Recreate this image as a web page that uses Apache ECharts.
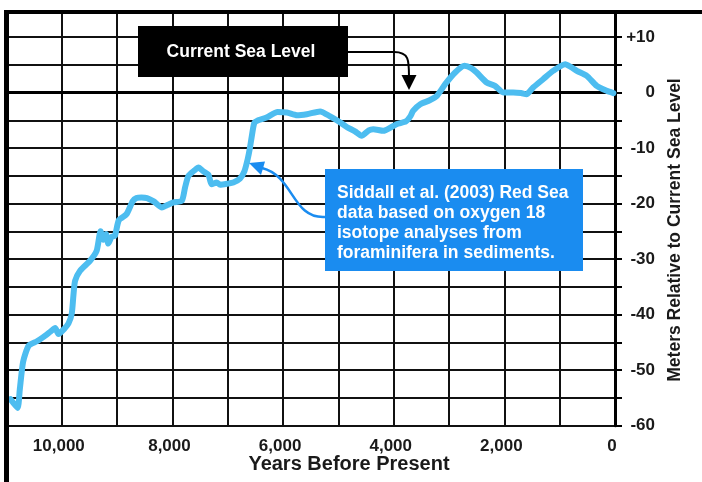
<!DOCTYPE html>
<html>
<head>
<meta charset="utf-8">
<script src="https://cdn.jsdelivr.net/npm/echarts@6/dist/echarts.min.js"></script>
<style>
html,body{margin:0;padding:0;background:#fff;}
#chart{width:702px;height:482px;}
</style>
</head>
<body>
<div id="chart"></div>
<script>
// Years before present (x) and sea level in metres relative to current (y)
const years = [10930,10800,10760,10700,10600,10450,10330,10200,10120,10060,9960,9880,9820,9790,9760,9670,9490,9370,9300,9250,9200,9160,9100,9040,8970,8830,8720,8650,8560,8460,8340,8190,8100,7980,7830,7770,7710,7600,7530,7440,7350,7290,7200,7140,7000,6900,6780,6700,6640,6600,6560,6520,6450,6300,6100,5930,5750,5570,5330,5150,4980,4850,4700,4580,4450,4370,4190,3950,3780,3700,3650,3520,3350,3220,3070,2890,2720,2600,2500,2320,2170,2020,1840,1700,1600,1480,1300,1120,900,800,690,510,330,150,30];
const levels = [-55.2,-56.8,-53.5,-48.5,-45.6,-44.8,-44.0,-43.0,-42.4,-43.5,-42.6,-41.6,-39.8,-36.5,-33.9,-32.1,-30.3,-28.5,-25.0,-26.5,-25.5,-27.2,-26.0,-25.8,-23.0,-21.9,-19.6,-19.0,-18.9,-19.0,-19.6,-20.7,-20.3,-19.8,-19.5,-17.0,-15.0,-14.0,-13.5,-14.2,-14.8,-16.5,-16.2,-16.6,-16.4,-16.2,-15.5,-14.2,-12.0,-10.0,-7.5,-5.5,-5.0,-4.5,-3.5,-3.6,-4.1,-3.9,-3.4,-4.3,-5.3,-6.2,-7.0,-7.8,-6.8,-6.6,-6.9,-5.7,-5.2,-4.3,-3.3,-2.1,-1.4,-0.6,1.5,3.6,4.8,4.4,3.6,1.8,1.2,0.0,0.0,-0.1,-0.3,0.9,2.4,3.9,5.1,4.6,3.9,3.0,1.2,0.3,-0.1];
const xTickLabels = [10000, 8000, 6000, 4000, 2000, 0];
const yTickLabels = [10, 0, -10, -20, -30, -40, -50, -60];
const xTitle = 'Years Before Present';
const yTitle = 'Meters Relative to Current Sea Level';
const noteBlack = 'Current Sea Level';
const noteBlue = ['Siddall et al. (2003) Red Sea', 'data based on oxygen 18', 'isotope analyses from', 'foraminifera in sediments.'];

const FONT = '"Liberation Sans", Arial, Helvetica, sans-serif';
const seriesData = years.map((y, i) => [y, levels[i]]);
const BLUE = '#1a8cf0';

const chart = echarts.init(document.getElementById('chart'), null, {renderer: 'canvas'});
chart.setOption({
  backgroundColor: '#ffffff',
  animation: false,
  grid: {left: 6.5, right: 87, top: 12, bottom: 56.3, containLabel: false},
  xAxis: {
    type: 'value', min: 0, max: 11000, interval: 1000, inverse: true,
    axisLine: {show: true, lineStyle: {color: '#000', width: 3}},
    axisTick: {show: true, length: 7, lineStyle: {color: '#000', width: 2}},
    splitLine: {show: true, lineStyle: {color: '#111', width: 2}},
    axisLabel: {
      margin: 12, color: '#1a1a1a', fontFamily: FONT, fontWeight: 'bold', fontSize: 17,
      padding: [0, 6, 0, 0],
      formatter: v => xTickLabels.includes(v) ? (v === 0 ? '0' : v.toLocaleString('en-US')) : ''
    }
  },
  yAxis: {
    type: 'value', position: 'right', min: -60, max: 14.5, interval: 5,
    axisLine: {show: true, onZero: false, lineStyle: {color: '#000', width: 3}},
    axisTick: {show: true, length: 7, lineStyle: {color: '#000', width: 2}},
    splitLine: {show: true, lineStyle: {color: '#111', width: 2}},
    axisLabel: {
      margin: 40, align: 'right', color: '#1a1a1a', fontFamily: FONT, fontWeight: 'bold', fontSize: 17,
      showMaxLabel: false,
      formatter: v => yTickLabels.includes(v) ? (v > 0 ? '+' + v : String(v)) : ''
    }
  },
  series: [{
    type: 'line', data: seriesData, symbol: 'none', smooth: 0.2,
    lineStyle: {color: '#4dbdf0', width: 6, cap: 'round', join: 'round'},
    z: 5
  }],
  graphic: [
    // frame
    {type: 'rect', shape: {x: 4, y: 10, width: 698, height: 4}, style: {fill: '#000'}, z: 100},
    {type: 'rect', shape: {x: 4, y: 10, width: 5, height: 472}, style: {fill: '#000'}, z: 100},
    // black note
    {type: 'rect', shape: {x: 138, y: 26, width: 210, height: 51}, style: {fill: '#000'}, z: 100},
    {type: 'text', x: 241, y: 52, z: 101, style: {text: noteBlack, fill: '#fff', font: 'bold 17.5px ' + FONT, textAlign: 'center', textVerticalAlign: 'middle'}},
    {type: 'polyline', shape: {points: [[348, 52], [394, 52]]}, style: {stroke: '#000', lineWidth: 2, fill: null}, z: 100},
    {type: 'bezierCurve', shape: {x1: 394, y1: 52, cpx1: 409, cpy1: 52, cpx2: 409, cpy2: 60, x2: 409, y2: 77}, style: {stroke: '#000', lineWidth: 2, fill: null}, z: 100},
    {type: 'polygon', shape: {points: [[401.5, 75], [416.5, 75], [409, 90]]}, style: {fill: '#000'}, z: 100},
    // blue note
    {type: 'rect', shape: {x: 325, y: 169, width: 258, height: 102}, style: {fill: BLUE}, z: 100},
    {type: 'text', x: 337, y: 183, z: 101, style: {text: noteBlue.join('\n'), fill: '#fff', font: 'bold 17.5px ' + FONT, lineHeight: 20, textAlign: 'left', textVerticalAlign: 'top'}},
    {type: 'bezierCurve', shape: {x1: 325, y1: 217, cpx1: 292, cpy1: 219, cpx2: 294, cpy2: 176, x2: 262, y2: 168}, style: {stroke: BLUE, lineWidth: 2.5, fill: null}, z: 100},
    {type: 'polygon', shape: {points: [[249, 163], [265, 161.5], [261, 175]]}, style: {fill: BLUE}, z: 100},
    // axis titles
    {type: 'text', x: 349, y: 464, z: 101, style: {text: xTitle, fill: '#1a1a1a', font: 'bold 20px ' + FONT, textAlign: 'center', textVerticalAlign: 'middle'}},
    {type: 'text', x: 675, y: 230, rotation: Math.PI / 2, z: 101, style: {text: yTitle, fill: '#1a1a1a', font: 'bold 17.5px ' + FONT, textAlign: 'center', textVerticalAlign: 'middle'}}
  ]
});
</script>
</body>
</html>
